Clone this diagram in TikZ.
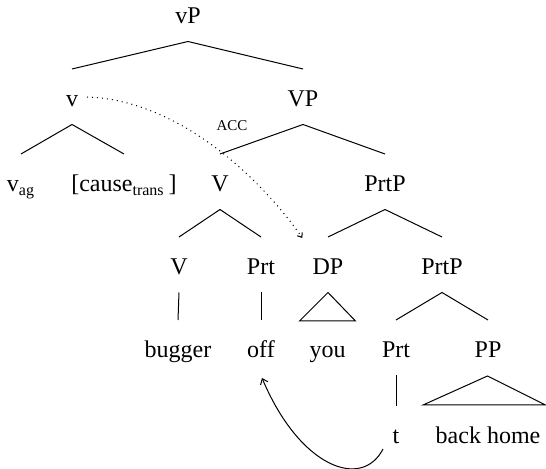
\documentclass[tikz,border=0pt]{standalone}
\usepackage{fontspec}
\setmainfont{Liberation Serif}
\usetikzlibrary{calc,arrows.meta}
\begin{document}
\begin{tikzpicture}[x=0.5pt,y=-0.5pt,
  lbl/.style={inner sep=0pt,anchor=base,font=\fontsize{12}{14}\selectfont},
  acclbl/.style={inner sep=0pt,anchor=base,font=\fontsize{7.5}{9}\selectfont},
  edge/.style={line width=0.5pt},
  movearrow/.style={edge,-{Straight Barb[length=2.5pt,width=4pt]}},
  agreearrow/.style={edge,dotted,-{Straight Barb[length=2pt,width=3pt]}}]
\useasboundingbox (0,0) rectangle (546,469);
% labels
\node[lbl] (vP) at (188,24) {vP};
\node[lbl] (v) at (72,107) {v};
\node[lbl] (VP) at (303,107) {VP};
\node[lbl] (vag) at (21,192) {v\textsubscript{ag}};
\node[lbl] (cause) at (124,192) {[cause\textsubscript{trans}\,]};
\node[lbl] (V1) at (220,192) {V};
\node[lbl] (PrtP1) at (385,192) {PrtP};
\node[lbl] (V2) at (179,275) {V};
\node[lbl] (Prt1) at (261,275) {Prt};
\node[lbl] (DP) at (328,275) {DP};
\node[lbl] (PrtP2) at (442,275) {PrtP};
\node[lbl] (bugger) at (178,358) {bugger};
\node[lbl] (off) at (261,358) {off};
\node[lbl] (you) at (327.5,358) {you};
\node[lbl] (Prt2) at (396,358) {Prt};
\node[lbl] (PP) at (488,358) {PP};
\node[lbl] (t) at (396,444) {t};
\node[lbl] (bh) at (488,444) {back home};
\node[acclbl] (acc) at (232,131) {ACC};
% branches
\foreach \p/\c in {vP/v,vP/VP,v/vag,v/cause,VP/V1,VP/PrtP1,V1/V2,V1/Prt1,PrtP1/DP,PrtP1/PrtP2,V2/bugger,Prt1/off,PrtP2/Prt2,PrtP2/PP,Prt2/t}
  \draw[edge] ($(\p.base)+(0,17.5)$) -- ($(\c.base)+(0,-38)$);
% triangles
\draw[edge] ($(DP.base)+(0,17.5)$) -- ($(you.base)+(-28,-37)$) -- ($(you.base)+(28,-37)$) -- cycle;
\draw[edge] ($(PP.base)+(-0.5,18)$) -- ($(bh.base)+(-65,-39)$) -- ($(bh.base)+(57.5,-39)$) -- cycle;
% arrows
\draw[agreearrow] ($(v.base)+(15,-10)$) .. controls (180,100) and (262,180) .. ($(DP.base)+(-25.6,-37)$);
\draw[movearrow] ($(t.base)+(-13,5)$) .. controls (362,490) and (300,468) .. ($(off.base)+(1,20)$);
\end{tikzpicture}
\end{document}
